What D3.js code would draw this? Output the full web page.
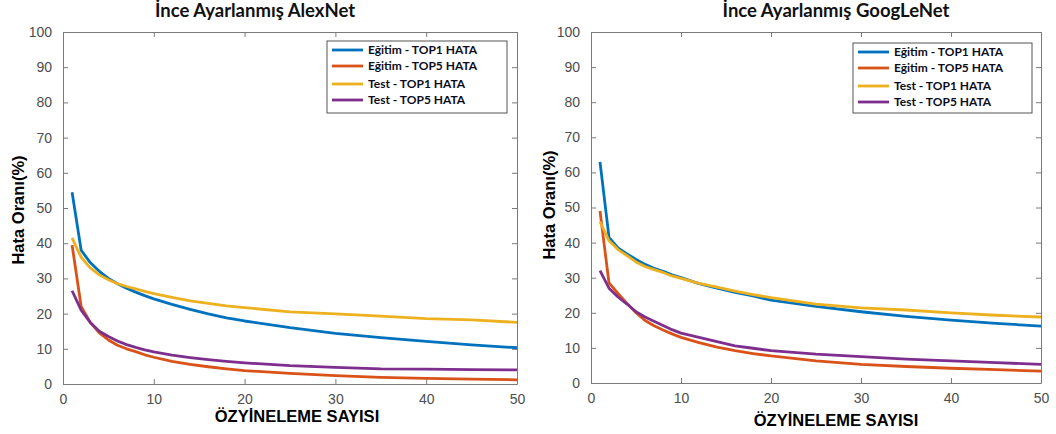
<!DOCTYPE html>
<html lang="en">
<head>
  <meta charset="utf-8">
  <script src="https://cdn.jsdelivr.net/npm/d3@7"></script>
  <style>
    body { margin: 0; background: #fff; }
    svg { display: block; }
    .title { font-family: Lato, "Open Sans", sans-serif; font-weight: bold; font-size: 18.5px; fill: #111; }
    .tick text { font-family: "Liberation Sans", Arial, sans-serif; font-size: 14px; fill: #4d4d4d; }
    .axis-label { font-family: "Liberation Sans", Arial, sans-serif; font-weight: bold; font-size: 16.5px; fill: #000; }
    .legend text { font-family: Lato, "Open Sans", sans-serif; font-weight: bold; font-size: 12px; fill: #0d0d1a; }
  </style>
</head>
<body>
<svg id="chart" width="1056" height="434"></svg>
<script>
// epochs shared by all curves
var epochs = [1, 2, 3, 4, 5, 6, 7, 8, 9, 10, 12, 14, 16, 18, 20, 25, 30, 35, 40, 45, 50];

// AlexNet
var alexTrainTop1 = [54.5, 38, 34.5, 32, 30, 28.5, 27.2, 26.1, 25.1, 24.2, 22.6, 21.2, 19.9, 18.8, 17.9, 16, 14.4, 13.2, 12.1, 11.1, 10.3];
var alexTrainTop5 = [39.5, 22, 17.5, 14.5, 12.5, 11, 10, 9.2, 8.3, 7.6, 6.4, 5.6, 4.9, 4.3, 3.8, 3, 2.4, 1.9, 1.6, 1.4, 1.2];
var alexTestTop1  = [41.5, 36, 33, 31, 29.6, 28.5, 27.7, 27, 26.3, 25.7, 24.6, 23.6, 22.9, 22.2, 21.7, 20.5, 19.9, 19.3, 18.6, 18.2, 17.5];
var alexTestTop5  = [26.5, 21, 17.5, 15, 13.5, 12.2, 11.2, 10.4, 9.7, 9.1, 8.2, 7.5, 6.9, 6.4, 6, 5.2, 4.7, 4.3, 4.2, 4.1, 4];

// GoogLeNet
var googTrainTop1 = [63, 41.5, 38.5, 36.8, 35.2, 33.8, 32.7, 31.8, 30.8, 30, 28.3, 27, 25.8, 24.8, 23.6, 21.8, 20.3, 19, 17.9, 17, 16.2];
var googTrainTop5 = [49, 28.5, 25.5, 22.7, 20, 17.8, 16.3, 15.1, 14, 13, 11.5, 10.2, 9.2, 8.4, 7.7, 6.3, 5.3, 4.7, 4.2, 3.8, 3.4];
var googTestTop1  = [46, 40.5, 38, 36.3, 34.5, 33.2, 32.3, 31.5, 30.5, 29.8, 28.4, 27.3, 26.2, 25.2, 24.3, 22.5, 21.4, 20.8, 20, 19.3, 18.8];
var googTestTop5  = [32, 27, 24.5, 22.5, 20.3, 18.8, 17.6, 16.4, 15.2, 14.2, 13, 11.8, 10.6, 9.9, 9.2, 8.2, 7.5, 6.8, 6.3, 5.8, 5.3];

var seriesNames = ["Eğitim - TOP1 HATA", "Eğitim - TOP5 HATA", "Test - TOP1 HATA", "Test - TOP5 HATA"];
var seriesColors = ["#0072BD", "#D95319", "#EDB120", "#7E2F8E"];
var xTicks = [0, 10, 20, 30, 40, 50];
var yTicks = [0, 10, 20, 30, 40, 50, 60, 70, 80, 90, 100];

var svg = d3.select("#chart");

function drawPanel(p) {
  var x = d3.scaleLinear().domain([0, 50]).range([p.left, p.right]);
  var y = d3.scaleLinear().domain([0, 100]).range([p.bottom, p.top]);
  var g = svg.append("g");
  var axisColor = "#7a7a7a";

  // box + inward ticks on all sides
  var axes = [
    [d3.axisBottom(x).tickValues(xTicks).tickSizeInner(-5).tickSizeOuter(0).tickPadding(10), "translate(0," + p.bottom + ")", true],
    [d3.axisTop(x).tickValues(xTicks).tickSizeInner(-5).tickSizeOuter(0), "translate(0," + p.top + ")", false],
    [d3.axisLeft(y).tickValues(yTicks).tickSizeInner(-5).tickSizeOuter(0).tickPadding(11), "translate(" + p.left + ",0)", true],
    [d3.axisRight(y).tickValues(yTicks).tickSizeInner(-5).tickSizeOuter(0), "translate(" + p.right + ",0)", false]
  ];
  axes.forEach(function(a) {
    var ax = g.append("g").attr("transform", a[1]).call(a[0]);
    ax.select(".domain").attr("stroke", axisColor);
    ax.selectAll(".tick line").attr("stroke", axisColor);
    if (!a[2]) ax.selectAll(".tick text").remove();
  });

  var line = d3.line()
    .x(function(d, i) { return x(epochs[i]); })
    .y(function(d) { return y(d); });

  p.series.forEach(function(s, i) {
    g.append("path")
      .datum(s)
      .attr("fill", "none")
      .attr("stroke", seriesColors[i])
      .attr("stroke-width", 2.8)
      .attr("stroke-linejoin", "round")
      .attr("d", line);
  });

  g.append("text").attr("class", "title")
    .attr("x", p.titleX).attr("y", 17)
    .attr("text-anchor", "middle")
    .text(p.title);

  g.append("text").attr("class", "axis-label")
    .attr("x", p.xLabelX).attr("y", p.xLabelY)
    .attr("text-anchor", "middle")
    .text("ÖZYİNELEME SAYISI");

  g.append("text").attr("class", "axis-label")
    .attr("transform", "translate(" + p.yLabelX + "," + p.yLabelY + ") rotate(-90)")
    .attr("text-anchor", "middle")
    .text("Hata Oranı(%)");

  // legend
  var lg = g.append("g").attr("class", "legend");
  lg.append("rect")
    .attr("x", p.legX).attr("y", p.legY)
    .attr("width", p.legW).attr("height", p.legH)
    .attr("fill", "#fff").attr("stroke", "#555").attr("stroke-width", 1);
  var rowY = [9, 25, 43, 59];
  seriesNames.forEach(function(name, i) {
    var yy = p.legY + rowY[i];
    lg.append("line")
      .attr("x1", p.legX + 5).attr("x2", p.legX + 36)
      .attr("y1", yy).attr("y2", yy)
      .attr("stroke", seriesColors[i]).attr("stroke-width", 2.8);
    lg.append("text")
      .attr("x", p.legX + 41).attr("y", yy + 4)
      .text(name);
  });
}

drawPanel({
  title: "İnce Ayarlanmış AlexNet",
  left: 63, right: 517, top: 32, bottom: 384,
  titleX: 255, xLabelX: 297, xLabelY: 422, yLabelX: 24, yLabelY: 210,
  legX: 327, legY: 41, legW: 180, legH: 72,
  series: [alexTrainTop1, alexTrainTop5, alexTestTop1, alexTestTop5]
});

drawPanel({
  title: "İnce Ayarlanmış GoogLeNet",
  left: 591, right: 1041, top: 32, bottom: 383,
  titleX: 836, xLabelX: 836, xLabelY: 426, yLabelX: 555, yLabelY: 205,
  legX: 853, legY: 43, legW: 179, legH: 70,
  series: [googTrainTop1, googTrainTop5, googTestTop1, googTestTop5]
});
</script>
</body>
</html>
